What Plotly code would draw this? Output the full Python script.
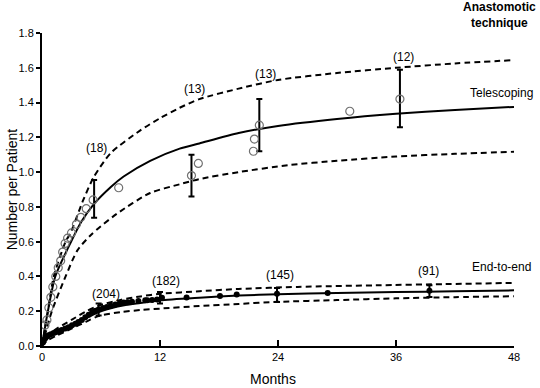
import plotly.graph_objects as go

# ---------------- data ----------------
# Telescoping: fitted curve and confidence band
tel_x = [0, 0.5, 1.35, 2.7, 4, 5.25, 7, 8.3, 11, 14, 16, 20, 24, 30, 36, 42, 48]
tel_y = [0, 0.17, 0.40, 0.57, 0.715, 0.815, 0.915, 0.975, 1.065, 1.135, 1.165, 1.225, 1.265, 1.305, 1.335, 1.357, 1.375]
tel_up_x = [0, 0.6, 1.2, 2.4, 2.9, 4.2, 5.25, 7, 10, 12, 14, 16, 20, 24, 30, 36, 42, 48]
tel_up_y = [0, 0.20, 0.40, 0.60, 0.65, 0.84, 0.97, 1.11, 1.24, 1.31, 1.37, 1.42, 1.48, 1.53, 1.57, 1.60, 1.625, 1.644]
tel_lo_x = [0, 1, 2.4, 3.6, 5, 7.6, 11, 14, 16, 20, 25, 30, 36, 42, 48]
tel_lo_y = [0, 0.20, 0.40, 0.55, 0.64, 0.76, 0.88, 0.93, 0.96, 1.00, 1.04, 1.065, 1.09, 1.105, 1.117]

# Telescoping observed points (open circles)
tel_pts_x = [0.3, 0.5, 0.7, 0.9, 1.1, 1.4, 1.65, 1.9, 2.1, 2.35, 2.6, 3.0, 3.5, 3.95, 4.5, 5.2, 7.8,
             15.2, 15.9, 21.5, 21.6, 22.1, 31.3, 36.4]
tel_pts_y = [0.12, 0.15, 0.22, 0.28, 0.34, 0.40, 0.45, 0.49, 0.54, 0.59, 0.62, 0.65, 0.70, 0.74, 0.79, 0.84, 0.91,
             0.98, 1.05, 1.12, 1.19, 1.27, 1.35, 1.42]
tel_err_x = [5.3, 15.2, 22.1, 36.4]
tel_err_y = [0.846, 0.98, 1.27, 1.423]
tel_err_e = [0.108, 0.12, 0.15, 0.165]

# End-to-end: fitted curve and confidence band
ete_x = [0, 0.3, 0.7, 1.5, 2.5, 3.5, 4.5, 5.75, 7, 8.5, 10, 12, 16, 20, 24, 30, 36, 42, 48]
ete_y = [0, 0.04, 0.06, 0.08, 0.10, 0.13, 0.16, 0.195, 0.217, 0.235, 0.247, 0.263, 0.278, 0.29, 0.298, 0.305, 0.31, 0.315, 0.32]
ete_up_x = [0, 0.5, 1.5, 3, 4.5, 5.75, 8, 10, 12, 16, 20, 26, 34, 41, 48]
ete_up_y = [0, 0.06, 0.10, 0.15, 0.20, 0.232, 0.265, 0.285, 0.30, 0.315, 0.328, 0.34, 0.349, 0.356, 0.363]
ete_lo_x = [0, 0.5, 1.5, 3, 4.5, 5.75, 8, 10, 12, 16, 20, 24, 30, 36, 42, 48]
ete_lo_y = [0, 0.03, 0.06, 0.10, 0.14, 0.172, 0.195, 0.207, 0.215, 0.23, 0.242, 0.254, 0.264, 0.274, 0.281, 0.286]

# End-to-end observed points (filled dots)
ete_pts_x = [0.1, 0.2, 0.34, 0.5, 0.67, 0.9, 1.18, 1.4, 1.69, 2.0, 2.37, 2.7, 3.05, 3.4, 3.7, 4.05, 4.4, 4.75,
             5.1, 5.45, 5.76, 6.2, 6.6, 7.0, 7.46, 7.9, 8.3, 8.7, 9.15, 9.8, 10.5, 10.7, 11.2, 11.7,
             12.2, 14.7, 18.1, 19.8, 23.9, 29.05, 39.4]
ete_pts_y = [0.02, 0.035, 0.045, 0.055, 0.062, 0.068, 0.075, 0.079, 0.085, 0.092, 0.10, 0.108, 0.119, 0.128, 0.138,
             0.15, 0.165, 0.18, 0.196, 0.203, 0.21, 0.218, 0.225, 0.232, 0.238, 0.245, 0.25, 0.252, 0.255, 0.259,
             0.263, 0.263, 0.265, 0.267, 0.277, 0.279, 0.288, 0.296, 0.30, 0.305, 0.318]
ete_err_x = [5.76, 12.0, 23.9, 39.4]
ete_err_y = [0.21, 0.277, 0.293, 0.316]
ete_err_e = [0.034, 0.033, 0.04, 0.034]

# Number of patients labels
n_labels = ["(18)", "(13)", "(13)", "(12)", "(204)", "(182)", "(145)", "(91)"]
n_lab_x = [5.5, 15.5, 22.7, 36.8, 6.5, 12.6, 24.2, 39.3]
n_lab_y = [1.136, 1.476, 1.564, 1.663, 0.297, 0.374, 0.407, 0.43]

x_ticks = [0, 12, 24, 36, 48]
y_ticks = [0.0, 0.2, 0.4, 0.6, 0.8, 1.0, 1.2, 1.4, 1.6, 1.8]

# ---------------- figure ----------------
fig = go.Figure()

def curve(x, y, dash):
    fig.add_trace(go.Scatter(x=x, y=y, mode="lines",
                             line=dict(color="black", width=2, dash=dash, shape="spline", smoothing=0.7),
                             hoverinfo="skip", showlegend=False))

DASH = "6px,4px"
curve(tel_up_x, tel_up_y, DASH)
curve(tel_lo_x, tel_lo_y, DASH)
curve(tel_x, tel_y, "solid")
curve(ete_up_x, ete_up_y, DASH)
curve(ete_lo_x, ete_lo_y, DASH)
curve(ete_x, ete_y, "solid")

# error bars
for ex, ey, ee in [(tel_err_x, tel_err_y, tel_err_e), (ete_err_x, ete_err_y, ete_err_e)]:
    fig.add_trace(go.Scatter(x=ex, y=ey, mode="markers",
                             marker=dict(size=1, color="rgba(0,0,0,0)"),
                             error_y=dict(type="data", array=ee, visible=True,
                                          color="black", thickness=2, width=3),
                             showlegend=False, hoverinfo="skip"))

fig.add_trace(go.Scatter(x=tel_pts_x, y=tel_pts_y, mode="markers",
                         marker=dict(symbol="circle-open", size=8, color="#707070", line=dict(width=1.2)),
                         showlegend=False, cliponaxis=False))
fig.add_trace(go.Scatter(x=ete_pts_x, y=ete_pts_y, mode="markers",
                         marker=dict(symbol="circle", size=6, color="black"),
                         showlegend=False, cliponaxis=False))

annotations = []
for t, ax_, ay_ in zip(n_labels, n_lab_x, n_lab_y):
    annotations.append(dict(x=ax_, y=ay_, xref="x", yref="y", text=t, showarrow=False,
                            font=dict(size=12, color="black")))
annotations += [
    dict(x=1.044, y=1.455, xref="paper", yref="y", text="Telescoping", showarrow=False,
         xanchor="right", font=dict(size=12, color="black")),
    dict(x=1.04, y=0.455, xref="paper", yref="y", text="End-to-end", showarrow=False,
         xanchor="right", font=dict(size=12, color="black")),
    dict(x=0.97, y=1.058, xref="paper", yref="paper", text="<b>Anastomotic<br>technique</b>",
         showarrow=False, xanchor="center", yanchor="middle", font=dict(size=12, color="black")),
    dict(x=0.489, y=-0.105, xref="paper", yref="paper", text="Months", showarrow=False,
         xanchor="center", yanchor="middle", font=dict(size=14, color="black")),
    dict(x=-0.064, y=0.5, xref="paper", yref="paper", text="Number per Patient", showarrow=False,
         textangle=-90, xanchor="center", yanchor="middle", font=dict(size=14, color="black")),
]

fig.update_layout(
    width=540, height=388,
    margin=dict(l=42, r=26, t=33, b=42),
    paper_bgcolor="white", plot_bgcolor="white",
    font=dict(family="Liberation Sans, Arial, sans-serif", color="black", size=11),
    annotations=annotations,
    xaxis=dict(range=[0, 48], tickvals=x_ticks, ticktext=[str(v) for v in x_ticks],
               showline=True, linecolor="black", linewidth=2, ticks="inside", ticklen=6,
               tickwidth=2, tickcolor="black", showgrid=False, zeroline=False,
               automargin=False, tickfont=dict(size=11)),
    yaxis=dict(range=[0, 1.8], tickvals=y_ticks, tickformat=".1f",
               showline=True, linecolor="black", linewidth=2, ticks="outside", ticklen=4,
               tickwidth=2, tickcolor="black", showgrid=False, zeroline=False,
               automargin=False, tickfont=dict(size=11)),
)

fig.write_html("out.html", config={"displayModeBar": False},
               post_script="document.body.style.margin='0px';")
